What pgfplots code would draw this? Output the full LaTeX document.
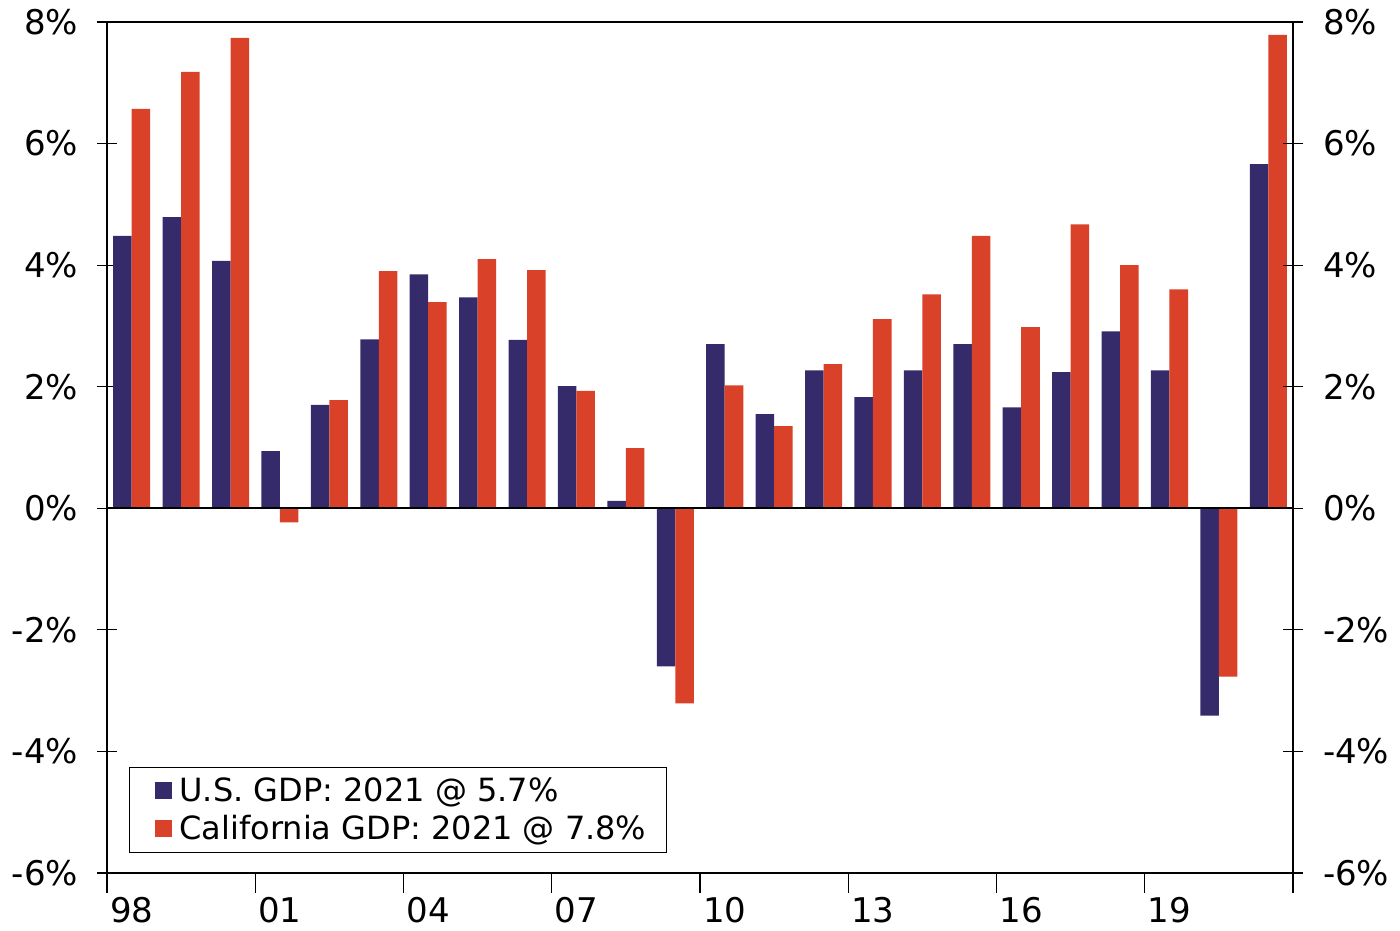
\documentclass[border=0pt]{standalone}
\usepackage{pgfplots}
\usepackage{pgfplotstable}
\pgfplotsset{compat=1.18}
\usepackage{fontspec}
\setmainfont{DejaVu Sans}
\definecolor{usc}{HTML}{352B6B}
\definecolor{cac}{HTML}{D94129}
\pgfplotstableread{
year us ca
1998 4.48 6.57
1999 4.79 7.18
2000 4.07 7.74
2001 0.94 -0.23
2002 1.70 1.78
2003 2.78 3.90
2004 3.85 3.39
2005 3.47 4.10
2006 2.77 3.92
2007 2.01 1.93
2008 0.12 0.99
2009 -2.60 -3.21
2010 2.70 2.02
2011 1.55 1.35
2012 2.27 2.37
2013 1.83 3.11
2014 2.27 3.52
2015 2.70 4.48
2016 1.66 2.98
2017 2.24 4.67
2018 2.91 4.00
2019 2.27 3.60
2020 -3.41 -2.77
2021 5.66 7.79
}\gdp
\begin{document}
\begin{tikzpicture}
\pgfplotsset{
  common/.style={
    width=593pt, height=425.5pt, scale only axis,
    xmin=1997.5, xmax=2021.5, ymin=-6, ymax=8,
    ytick={-6,-4,...,8},
    /pgf/number format/assume math mode=true,
    yticklabel={\pgfmathprintnumber{\tick}\%},
    tick label style={font=\fontsize{17}{20}\selectfont, black},
    major tick length=10pt, minor tick length=10pt, tick align=center,
    axis line style={black, line width=0.8pt},
    every tick/.style={black, line width=0.6pt},
  }
}
\begin{axis}[common,
  ybar=0pt, bar width=0.375,
  xtick={1998,2001,...,2019},
  xticklabels={98,01,04,07,10,13,16,19},
  minor xtick={1997.5,2000.5,...,2021.5},
  xtick pos=bottom, ytick pos=left,
  major x tick style={draw=none},
  xticklabel style={yshift=-1pt, inner sep=1pt},
  yticklabel style={xshift=-6pt},
  legend style={at={(0.0185,0.0235)}, anchor=south west, draw=black, line width=0.6pt,
    font=\fontsize{16}{19}\selectfont, inner xsep=8pt, inner ysep=3pt,
    row sep=1.5pt},
  legend cell align=left,
  legend image code/.code={\path (0pt,0pt) (15pt,0pt); \fill[#1] (4.5pt,-4.2pt) rectangle (13pt,4.2pt);},
]
\addplot[fill=usc, draw=none] table[x=year,y=us]{\gdp};
\addlegendentry{U.S. GDP: 2021 @ 5.7\%}
\addplot[fill=cac, draw=none] table[x=year,y=ca]{\gdp};
\addlegendentry{California GDP: 2021 @ 7.8\%}
\draw[black, line width=0.8pt] (axis cs:1997.5,0) -- (axis cs:2021.5,0);
\end{axis}
\begin{axis}[common,
  hide x axis,
  ytick pos=right, yticklabel pos=right,
  yticklabel style={xshift=6.5pt},
]
\end{axis}
\pgfresetboundingbox
\path[use as bounding box] ([shift={(-53.5pt,-28.5pt)}]current axis.south west) rectangle ([shift={(53.5pt,11pt)}]current axis.north east);
\end{tikzpicture}
\end{document}
